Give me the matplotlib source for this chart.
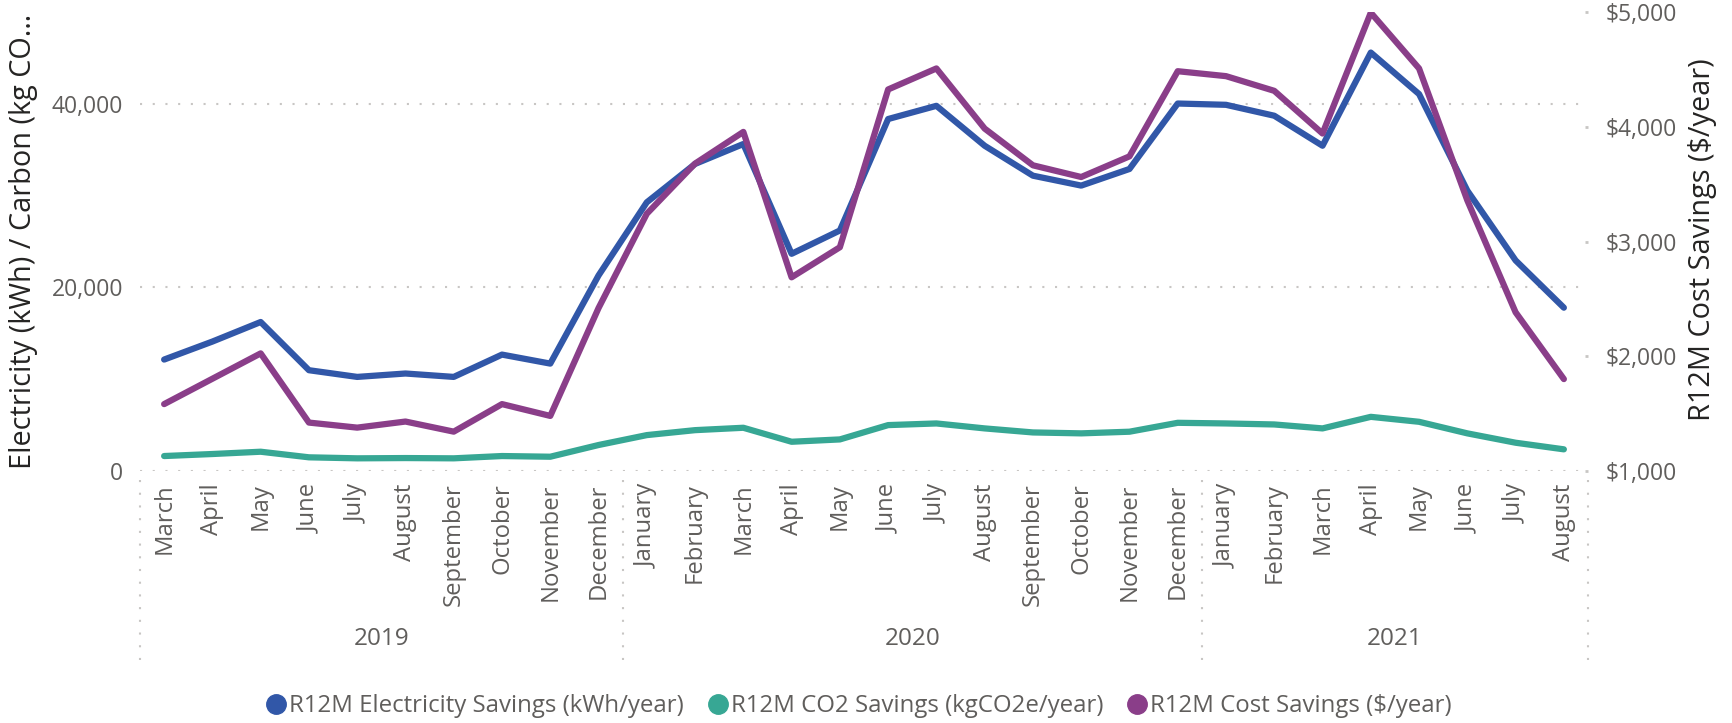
import matplotlib
matplotlib.use("Agg")
import matplotlib.pyplot as plt
from matplotlib.lines import Line2D
from matplotlib.transforms import blended_transform_factory

plt.rcParams['font.family'] = ['Open Sans', 'DejaVu Sans']

months = ["March", "April", "May", "June", "July", "August", "September", "October", "November", "December",
          "January", "February", "March", "April", "May", "June", "July", "August", "September", "October",
          "November", "December",
          "January", "February", "March", "April", "May", "June", "July", "August"]
years = ["2019", "2020", "2021"]
year_counts = [10, 12, 8]

electricity = [12140, 14100, 16230, 10980, 10250, 10620, 10250, 12680, 11700, 21300,
               29270, 33450, 35620, 23660, 26200, 38340, 39780, 35430, 32170, 31090,
               32900, 40030,
               39890, 38700, 35430, 45580, 41060, 30540, 22940, 17790]
co2 = [1630, 1850, 2100, 1490, 1380, 1410, 1380, 1630, 1555, 2830,
       3910, 4450, 4710, 3185, 3440, 5000, 5180, 4640, 4200, 4100,
       4280, 5250,
       5180, 5070, 4640, 5900, 5360, 4100, 3080, 2360]
cost = [1583, 1804, 2025, 1422, 1378, 1431, 1343, 1583, 1480, 2420,
        3242, 3679, 3955, 2688, 2950, 4325, 4508, 3984, 3664, 3562,
        3742, 4484,
        4441, 4313, 3941, 4994, 4508, 3358, 2383, 1801]

left_ticks = [0, 20000, 40000]
right_ticks = [1000, 2000, 3000, 4000, 5000]

series_labels = ["R12M Electricity Savings (kWh/year)", "R12M CO2 Savings (kgCO2e/year)",
                 "R12M Cost Savings ($/year)"]
c_blue = "#3157A8"
c_green = "#37A794"
c_purple = "#8A3E89"
tick_col = "#605E5C"
title_col = "#252423"
grid_col = "#C8C6C4"

W, H = 1733, 723
fig = plt.figure(figsize=(W / 100, H / 100), dpi=100)
x0, x1 = 140, 1588
y_top, y_bot = 12, 471
ax = fig.add_axes([x0 / W, 1 - y_bot / H, (x1 - x0) / W, (y_bot - y_top) / H])
ax2 = ax.twinx()

x = list(range(len(months)))
lw = 4.5
ax.plot(x, electricity, color=c_blue, lw=lw, solid_capstyle='round', solid_joinstyle='round', zorder=3)
ax.plot(x, co2, color=c_green, lw=lw, solid_capstyle='round', solid_joinstyle='round', zorder=3)
ax2.plot(x, cost, color=c_purple, lw=lw, solid_capstyle='round', solid_joinstyle='round', zorder=3)

ax.set_xlim(-0.5, len(months) - 0.5)
ax.set_ylim(0, 50000)
ax2.set_ylim(1000, 5000)

for a in (ax, ax2):
    for s in a.spines.values():
        s.set_visible(False)

ax.set_yticks(left_ticks)
ax.set_yticklabels([f"{v:,}" for v in left_ticks])
ax.tick_params(axis='y', length=0, pad=12, labelsize=16.5, labelcolor=tick_col)
ax2.set_yticks(right_ticks)
ax2.set_yticklabels([f"${v:,}" for v in right_ticks])
ax2.tick_params(axis='y', length=2.2, width=2, direction='in', color=grid_col,
                pad=13, labelsize=16.5, labelcolor=tick_col)

ax.set_xticks(x)
ax.set_xticklabels(months, rotation=90, va='top', ha='center')
ax.tick_params(axis='x', length=0, pad=9, labelsize=17.2, labelcolor=tick_col)

ax.yaxis.grid(True, color=grid_col, linewidth=1.5, linestyle=(0, (1, 5.1)))
ax.set_axisbelow(True)

# category separators and year labels
tr = blended_transform_factory(ax.transData, fig.transFigure)
bounds = [-0.5]
acc = -0.5
for n in year_counts:
    acc += n
    bounds.append(acc)
for b in bounds:
    ax.plot([b, b], [1 - 480 / H, 1 - 663 / H], transform=tr, clip_on=False,
            color=grid_col, linewidth=1.5, linestyle=(0, (1, 5.1)))
for i, yl in enumerate(years):
    cx = (bounds[i] + bounds[i + 1]) / 2
    ax.text(cx, 1 - 639 / H, yl, transform=tr, ha='center', va='center',
            fontsize=17.5, color=tick_col)

# axis titles
fig.text(24 / W, 1 - 241 / H, "Electricity (kWh) / Carbon (kg CO\u2026", rotation=90,
         ha='center', va='center', fontsize=20.8, color=title_col)
fig.text(1703 / W, 1 - 240 / H, "R12M Cost Savings ($/year)", rotation=90,
         ha='center', va='center', fontsize=20.8, color=title_col)

# legend
handles = [Line2D([], [], marker='o', linestyle='', markersize=14, color=c)
           for c in (c_blue, c_green, c_purple)]
leg = fig.legend(handles, series_labels, loc='center', bbox_to_anchor=(858 / W, 1 - 706 / H),
                 ncol=3, frameon=False, handletextpad=0.05, columnspacing=0.9,
                 handlelength=1.0, fontsize=17.3, borderpad=0)
for t in leg.get_texts():
    t.set_color(tick_col)

fig.savefig("out.png", dpi=100)
